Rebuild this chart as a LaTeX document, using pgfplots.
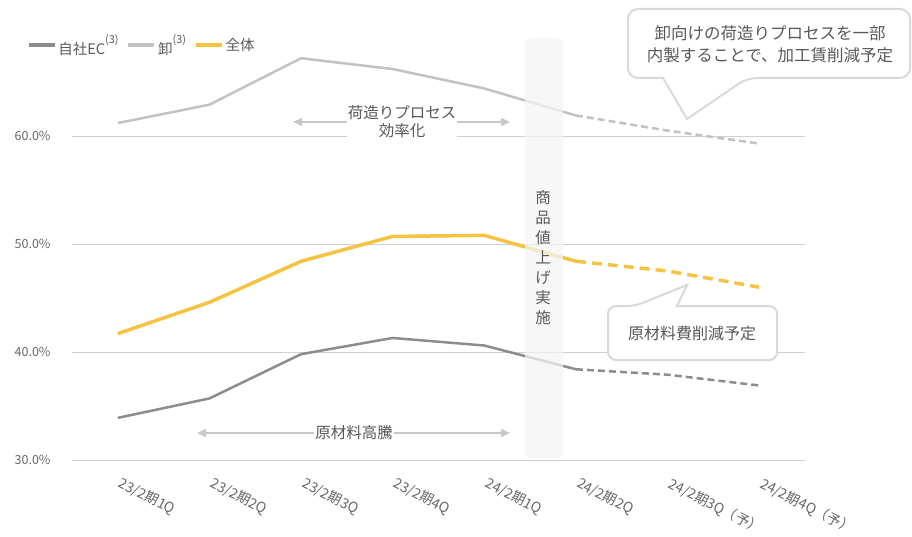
\documentclass[border=0pt]{standalone}
\usepackage{pgfplots}
\pgfplotsset{compat=1.18}
\usepackage{fontspec}
\setmainfont{Noto Sans CJK JP}
\usetikzlibrary{arrows.meta}
\definecolor{ecgray}{HTML}{8C8C8C}
\definecolor{wsgray}{HTML}{C2C2C2}
\definecolor{allyel}{HTML}{F4C342}
\definecolor{txtgray}{HTML}{595959}
\definecolor{tickgray}{HTML}{666666}
\definecolor{gridgray}{HTML}{D0D0D0}
\definecolor{boxgray}{HTML}{D9D9D9}
\definecolor{arrgray}{HTML}{C8C8C8}
\begin{document}
\begin{tikzpicture}
\useasboundingbox (0,0) rectangle (912pt,536pt);
\begin{axis}[
  at={(72pt,76pt)}, anchor=south west,
  scale only axis, width=733pt, height=432pt,
  xmin=-0.5, xmax=7.5, ymin=30, ymax=70,
  ytick={30,40,50,60},
  yticklabels={30.0\%,40.0\%,50.0\%,60.0\%},
  xtick={0,...,7},
  xticklabels={23/2期1Q,23/2期2Q,23/2期3Q,23/2期4Q,24/2期1Q,24/2期2Q,24/2期3Q（予）,24/2期4Q（予）},
  axis line style={draw=none},
  major tick length=0pt,
  ymajorgrids, grid style={gridgray, line width=1pt},
  yticklabel style={font=\fontsize{12.5}{14}\selectfont, text=tickgray, xshift=-18pt},
  xticklabel style={font=\fontsize{14}{14}\selectfont, text=tickgray, rotate=-27, anchor=north west, yshift=-12pt, xshift=12pt, inner sep=0pt},
  /pgf/number format/assume math mode=true,
  clip=false,
  legend style={at={(-0.066,0.961)}, anchor=west, draw=none, fill=none,
    font=\fontsize{14.5}{16}\selectfont, text=txtgray, legend columns=3,
    /tikz/every even column/.append style={column sep=6pt}},
  legend cell align=left,
  legend image code/.code={\draw[#1, line width=3.5pt] (0pt,0pt) -- (26pt,0pt);},
]
\addplot[ecgray, line width=2.5pt] coordinates {(0,33.9)(1,35.7)(2,39.8)(3,41.3)(4,40.6)(5,38.4)};
\addplot[wsgray, line width=2.5pt] coordinates {(0,61.2)(1,62.9)(2,67.2)(3,66.2)(4,64.4)(5,61.9)};
\addplot[allyel, line width=3.5pt] coordinates {(0,41.7)(1,44.6)(2,48.4)(3,50.7)(4,50.8)(5,48.4)};
\addplot[ecgray, line width=2.5pt, dash pattern=on 7pt off 4pt, forget plot] coordinates {(5,38.4)(6,37.9)(7,36.9)};
\addplot[wsgray, line width=2.5pt, dash pattern=on 7pt off 4pt, forget plot] coordinates {(5,61.9)(6,60.5)(7,59.3)};
\addplot[allyel, line width=3.5pt, dash pattern=on 10pt off 6pt, forget plot] coordinates {(5,48.4)(6,47.5)(7,46.0)};
\legend{自社EC\raisebox{11pt}{\fontsize{11}{10}\selectfont(3)},卸\raisebox{11pt}{\fontsize{11}{10}\selectfont(3)},全体}
\end{axis}
\begin{scope}[shift={(0pt,536pt)}, x=1pt, y=-1pt]
  % price increase band
  \fill[gray!9, opacity=0.75, rounded corners=6pt] (525,38) rectangle (563,458);
  \node[text=txtgray, align=center, font=\fontsize{15.5}{20}\selectfont] at (543,258) {商\\品\\値\\上\\げ\\実\\施};
  % packing process arrow
  \node[fill=white, inner sep=1pt, align=center, text=txtgray, font=\fontsize{15.5}{18}\selectfont] (pk) at (402,122) {荷造りプロセス\\効率化};
  \draw[arrgray, line width=1.5pt, -{Triangle[length=9pt,width=8pt]}] (pk.west) -- (293,122);
  \draw[arrgray, line width=1.5pt, -{Triangle[length=9pt,width=8pt]}] (pk.east) -- (510,122);
  % raw material arrow
  \node[fill=white, inner sep=1pt, text=txtgray, font=\fontsize{15.5}{18}\selectfont] (rm) at (354,433) {原材料高騰};
  \draw[arrgray, line width=1.5pt, -{Triangle[length=9pt,width=8pt]}] (rm.west) -- (197,433);
  \draw[arrgray, line width=1.5pt, -{Triangle[length=9pt,width=8pt]}] (rm.east) -- (510,433);
  % callout 1
  \draw[boxgray, line width=2pt, fill=white, rounded corners=10pt]
    (628,9) -- (910,9) -- (910,78) -- (747,78) [sharp corners] -- (687,119) -- (663,78) [rounded corners=10pt] -- (628,78) -- cycle;
  \node[text=txtgray, align=center, font=\fontsize{16.5}{22}\selectfont] at (770,44) {卸向けの荷造りプロセスを一部\\内製することで、加工賃削減予定};
  % callout 2
  \draw[boxgray, line width=2pt, fill=white, rounded corners=8pt]
    (608,306) -- (635,306) [sharp corners] -- (687,285) -- (677,306) [rounded corners=8pt] -- (777,306) -- (777,360) -- (608,360) -- cycle;
  \node[text=txtgray, font=\fontsize{16}{18}\selectfont] at (692,333) {原材料費削減予定};
\end{scope}
\end{tikzpicture}
\end{document}
